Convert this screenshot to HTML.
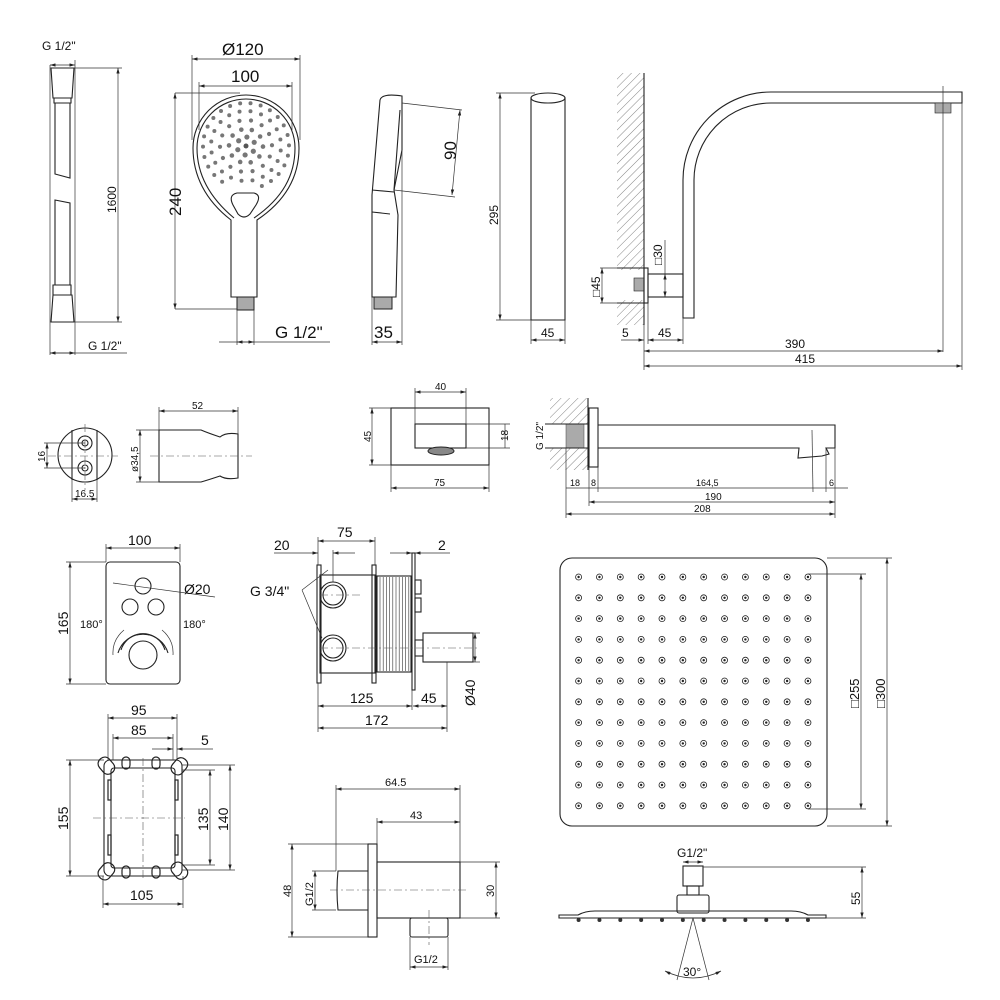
<!DOCTYPE html>
<html><head><meta charset="utf-8"><style>
html,body{margin:0;padding:0;background:#fff;}
svg{display:block;font-family:"Liberation Sans",sans-serif;}
.o{fill:none;stroke:#222;stroke-width:1.1}
.d{fill:none;stroke:#333;stroke-width:0.7}
.c{fill:none;stroke:#555;stroke-width:0.6;stroke-dasharray:8 3 2 3}
.h{fill:url(#hat);stroke:none}
text{fill:#111}
</style></head><body>
<svg id="s" width="1000" height="1000" viewBox="0 0 1000 1000" xmlns="http://www.w3.org/2000/svg">
<defs>
<marker id="a" viewBox="0 0 10 6" refX="10" refY="3" markerWidth="8" markerHeight="5" orient="auto-start-reverse"><path d="M0,0 L10,3 L0,6 z" fill="#222"/></marker>
<pattern id="hat" width="6" height="6" patternUnits="userSpaceOnUse" patternTransform="rotate(45)"><line x1="0" y1="0" x2="0" y2="6" stroke="#666" stroke-width="0.8"/></pattern>
</defs>

<!-- HOSE -->
<text x="42" y="50" font-size="12">G 1/2"</text>
<line class="d" x1="50" y1="65" x2="75" y2="65" marker-start="url(#a)" marker-end="url(#a)"/>
<path class="o" d="M51,68 H74 L72,98 H53 Z M54,98 H71 V103 H54 Z M55,103 V174 L70,178 V103"/>
<path class="o" d="M55,200 L70,203 V285 H55 Z M53,285 H71 V295 H53 Z M53,295 H72 L74,322 H51 Z"/>
<line class="d" x1="50" y1="65" x2="50" y2="355"/><line class="d" x1="75" y1="60" x2="75" y2="355"/>
<line class="d" x1="74" y1="68" x2="122" y2="68"/><line class="d" x1="74" y1="322" x2="122" y2="322"/>
<line class="d" x1="118" y1="68" x2="118" y2="322" marker-start="url(#a)" marker-end="url(#a)"/>
<text x="0" y="0" font-size="12" transform="translate(116,213) rotate(-90)">1600</text>
<line class="d" x1="50" y1="353" x2="127" y2="353"/>
<line class="d" x1="50" y1="353" x2="75" y2="353" marker-start="url(#a)" marker-end="url(#a)"/>
<text x="88" y="350" font-size="12">G 1/2"</text>

<!-- HAND SHOWER -->
<text x="222" y="55" font-size="17">Ø120</text>
<line class="d" x1="192" y1="59" x2="300" y2="59" marker-start="url(#a)" marker-end="url(#a)"/>
<line class="d" x1="192" y1="55" x2="192" y2="140"/><line class="d" x1="300" y1="55" x2="300" y2="140"/>
<text x="231" y="82" font-size="17">100</text>
<line class="d" x1="199" y1="86" x2="292" y2="86" marker-start="url(#a)" marker-end="url(#a)"/>
<line class="d" x1="199" y1="82" x2="199" y2="130"/><line class="d" x1="292" y1="82" x2="292" y2="130"/>
<path class="o" d="M231,220 C205,200 193,175 193,148 A53,53 0 1 1 299,148 C299,175 287,200 257,220 V297 H231 Z"/>
<path class="o" d="M234,218 C210,198 197,175 197,148 A49,49 0 1 1 295,148 C295,175 283,198 254,218"/>
<path class="o" d="M237,193 H254 Q262,195 256,205 L250,214 Q244,220 238,214 L233,205 Q228,195 237,193 Z"/>
<rect x="237" y="297" width="17" height="13" fill="#aaa" stroke="#222"/>
<g id="hs"></g>
<line class="d" x1="175" y1="93" x2="240" y2="93"/><line class="d" x1="175" y1="309" x2="237" y2="309"/>
<line class="d" x1="175" y1="93" x2="175" y2="309" marker-start="url(#a)" marker-end="url(#a)"/>
<text x="0" y="0" font-size="17" transform="translate(181,216) rotate(-90)">240</text>
<line class="d" x1="237" y1="310" x2="237" y2="345"/><line class="d" x1="254" y1="310" x2="254" y2="345"/>
<line class="d" x1="219" y1="342" x2="330" y2="342"/>
<line class="d" x1="237" y1="342" x2="254" y2="342" marker-start="url(#a)" marker-end="url(#a)"/>
<text x="275" y="338" font-size="17">G 1/2"</text>

<!-- side hand shower -->
<path class="o" d="M380,100 Q382,93 402,96 V150 L394,190 L398,215 L396,297 H372 V195 Z"/>
<path class="o" d="M372,190 L394,192 M372,212 L390,214 M400,110 L394,190"/>
<rect x="374" y="297" width="18" height="12" fill="#aaa" stroke="#222"/>
<path class="d" d="M402,103 L462,110 M394,190 L455,197"/>
<line class="d" x1="460" y1="110" x2="452" y2="195" marker-start="url(#a)" marker-end="url(#a)"/>
<text x="0" y="0" font-size="17" transform="translate(456,160) rotate(-90)">90</text>
<line class="d" x1="372" y1="297" x2="372" y2="345"/><line class="d" x1="402" y1="150" x2="402" y2="345"/>
<line class="d" x1="372" y1="342" x2="402" y2="342" marker-start="url(#a)" marker-end="url(#a)"/>
<text x="374" y="338" font-size="17">35</text>

<!-- 295 holder -->
<path class="o" d="M531,98 V320 H565 V98"/>
<ellipse class="o" cx="548" cy="98" rx="17" ry="5"/>
<line class="d" x1="496" y1="93" x2="535" y2="93"/><line class="d" x1="496" y1="320" x2="531" y2="320"/>
<line class="d" x1="500" y1="93" x2="500" y2="320" marker-start="url(#a)" marker-end="url(#a)"/>
<text x="0" y="0" font-size="12" transform="translate(498,225) rotate(-90)">295</text>
<line class="d" x1="531" y1="320" x2="531" y2="344"/><line class="d" x1="565" y1="320" x2="565" y2="344"/>
<line class="d" x1="531" y1="340" x2="565" y2="340" marker-start="url(#a)" marker-end="url(#a)"/>
<text x="541" y="337" font-size="12">45</text>

<!-- shower arm -->
<rect class="h" x="617" y="73" width="27" height="252"/>
<rect x="617" y="270" width="27" height="30" fill="#fff"/>
<line class="o" x1="644" y1="73" x2="644" y2="325"/>
<path class="o" d="M617,268 H644 M617,303 H644"/>
<rect x="634" y="278" width="10" height="13" fill="#aaa" stroke="#222" stroke-width="0.6"/>
<rect class="o" x="644" y="268" width="4" height="35"/>
<rect class="o" x="648" y="274" width="35" height="23"/>
<path class="o" d="M683,318 V180 A88,88 0 0 1 771,92 H962 V103 H771 A77,77 0 0 0 694,180 V318 Z"/>
<rect x="935" y="103" width="16" height="10" fill="#aaa" stroke="#222" stroke-width="0.6"/>
<line class="d" x1="943" y1="86" x2="943" y2="352"/>
<line class="d" x1="962" y1="103" x2="962" y2="370"/>
<line class="d" x1="665" y1="274" x2="665" y2="297" marker-start="url(#a)" marker-end="url(#a)"/>
<line class="d" x1="665" y1="240" x2="665" y2="274"/>
<text x="0" y="0" font-size="12" transform="translate(662,265) rotate(-90)">□30</text>
<line class="d" x1="600" y1="268" x2="617" y2="268"/><line class="d" x1="600" y1="303" x2="617" y2="303"/>
<line class="d" x1="602" y1="268" x2="602" y2="303" marker-start="url(#a)" marker-end="url(#a)"/>
<text x="0" y="0" font-size="12" transform="translate(600,297) rotate(-90)">□45</text>
<line class="d" x1="644" y1="325" x2="644" y2="370"/><line class="d" x1="683" y1="318" x2="683" y2="344"/><line class="d" x1="648" y1="303" x2="648" y2="344"/>
<line class="d" x1="621" y1="340" x2="644" y2="340" marker-end="url(#a)"/>
<line class="d" x1="648" y1="340" x2="683" y2="340" marker-start="url(#a)" marker-end="url(#a)"/>
<text x="622" y="337" font-size="12">5</text><text x="658" y="337" font-size="12">45</text>
<line class="d" x1="644" y1="351" x2="943" y2="351" marker-start="url(#a)" marker-end="url(#a)"/>
<text x="785" y="348" font-size="12">390</text>
<line class="d" x1="644" y1="366" x2="962" y2="366" marker-start="url(#a)" marker-end="url(#a)"/>
<text x="795" y="363" font-size="12">415</text>

<!-- MIDDLE ROW: holder -->
<circle class="o" cx="85" cy="455" r="27"/>
<path class="o" d="M72,430 V480 M97,430 V480"/>
<circle class="o" cx="85" cy="443" r="7"/><circle class="o" cx="85" cy="443" r="3"/>
<circle class="o" cx="85" cy="468" r="7"/><circle class="o" cx="85" cy="468" r="3"/>
<line class="c" x1="48" y1="456" x2="118" y2="456"/><line class="c" x1="85" y1="424" x2="85" y2="490"/>
<line class="d" x1="44" y1="443" x2="85" y2="443"/><line class="d" x1="44" y1="468" x2="85" y2="468"/>
<line class="d" x1="47" y1="443" x2="47" y2="468" marker-start="url(#a)" marker-end="url(#a)"/>
<text x="0" y="0" font-size="10" transform="translate(45,462) rotate(-90)">16</text>
<line class="d" x1="72" y1="480" x2="72" y2="502"/><line class="d" x1="97" y1="480" x2="97" y2="502"/>
<line class="d" x1="72" y1="499" x2="97" y2="499" marker-start="url(#a)" marker-end="url(#a)"/>
<text x="75" y="497" font-size="10">16.5</text>
<path class="o" d="M159,430 H201 Q208,433 220,437 Q226,432 238,434 V478 Q226,480 220,476 Q208,480 201,482 H159 Z"/>
<line class="c" x1="150" y1="456" x2="252" y2="456"/>
<line class="d" x1="159" y1="407" x2="159" y2="430"/><line class="d" x1="238" y1="407" x2="238" y2="434"/>
<line class="d" x1="159" y1="411" x2="238" y2="411" marker-start="url(#a)" marker-end="url(#a)"/>
<text x="192" y="409" font-size="10">52</text>
<line class="d" x1="136" y1="430" x2="159" y2="430"/><line class="d" x1="136" y1="482" x2="159" y2="482"/>
<line class="d" x1="140" y1="430" x2="140" y2="482" marker-start="url(#a)" marker-end="url(#a)"/>
<text x="0" y="0" font-size="10" transform="translate(138,472) rotate(-90)">ø34,5</text>

<!-- wall outlet -->
<rect class="o" x="391" y="408" width="98" height="57"/>
<rect class="o" x="415" y="424" width="51" height="24"/>
<ellipse cx="441" cy="451" rx="13" ry="4" fill="#888" stroke="#222"/>
<line class="d" x1="415" y1="388" x2="415" y2="424"/><line class="d" x1="466" y1="388" x2="466" y2="424"/>
<line class="d" x1="415" y1="392" x2="466" y2="392" marker-start="url(#a)" marker-end="url(#a)"/>
<text x="435" y="390" font-size="10">40</text>
<line class="d" x1="369" y1="408" x2="391" y2="408"/><line class="d" x1="369" y1="465" x2="391" y2="465"/>
<line class="d" x1="372" y1="408" x2="372" y2="465" marker-start="url(#a)" marker-end="url(#a)"/>
<text x="0" y="0" font-size="10" transform="translate(371,442) rotate(-90)">45</text>
<line class="d" x1="391" y1="465" x2="391" y2="492"/><line class="d" x1="489" y1="465" x2="489" y2="492"/>
<line class="d" x1="391" y1="488" x2="489" y2="488" marker-start="url(#a)" marker-end="url(#a)"/>
<text x="434" y="486" font-size="10">75</text>
<line class="d" x1="466" y1="424" x2="510" y2="424"/><line class="d" x1="466" y1="448" x2="510" y2="448"/>
<line class="d" x1="505" y1="424" x2="505" y2="448"/>
<text x="0" y="0" font-size="10" transform="translate(508,441) rotate(-90)">18</text>

<!-- spout -->
<rect class="h" x="550" y="398" width="38" height="72"/>
<rect x="550" y="424" width="38" height="24" fill="#fff"/>
<rect x="566" y="424" width="18" height="24" fill="#aaa" stroke="#444" stroke-width="0.5"/>
<path class="o" d="M545,424 H589 M545,448 H589 M588,398 V470"/>
<rect class="o" x="589" y="408" width="9" height="59"/>
<path class="o" d="M598,425 H835 V448 H826 L829,454 L822,456 L798,458 L799,448 H598"/>
<line class="d" x1="812" y1="430" x2="813" y2="492"/><line class="d" x1="826" y1="448" x2="826" y2="492"/>
<line class="d" x1="835" y1="448" x2="835" y2="518"/>
<line class="d" x1="566" y1="448" x2="566" y2="518"/><line class="d" x1="589" y1="467" x2="589" y2="506"/><line class="d" x1="598" y1="467" x2="598" y2="492"/>
<text x="0" y="0" font-size="10" transform="translate(543,450) rotate(-90)">G 1/2"</text>
<line class="d" x1="566" y1="488" x2="848" y2="488"/>
<text x="570" y="486" font-size="9">18</text><text x="591" y="486" font-size="9">8</text>
<text x="696" y="486" font-size="9">164,5</text><text x="829" y="486" font-size="9">6</text>
<line class="d" x1="589" y1="502" x2="835" y2="502" marker-start="url(#a)" marker-end="url(#a)"/>
<text x="705" y="500" font-size="10">190</text>
<line class="d" x1="566" y1="514" x2="835" y2="514" marker-start="url(#a)" marker-end="url(#a)"/>
<text x="694" y="512" font-size="10">208</text>

<!-- THERMOSTAT PANEL -->
<rect class="o" x="106" y="562" width="74" height="122" rx="4"/>
<line class="d" x1="106" y1="544" x2="106" y2="562"/><line class="d" x1="180" y1="544" x2="180" y2="562"/>
<line class="d" x1="106" y1="548" x2="180" y2="548" marker-start="url(#a)" marker-end="url(#a)"/>
<text x="128" y="545" font-size="14">100</text>
<line class="d" x1="66" y1="562" x2="106" y2="562"/><line class="d" x1="66" y1="684" x2="106" y2="684"/>
<line class="d" x1="70" y1="562" x2="70" y2="684" marker-start="url(#a)" marker-end="url(#a)"/>
<text x="0" y="0" font-size="14" transform="translate(68,635) rotate(-90)">165</text>
<circle class="o" cx="143" cy="586" r="8"/><circle class="o" cx="130" cy="607" r="8"/><circle class="o" cx="156" cy="607" r="8"/>
<line class="d" x1="113" y1="583" x2="215" y2="597"/>
<text x="184" y="594" font-size="14">Ø20</text>
<circle class="o" cx="143" cy="655" r="14"/>
<path class="o" d="M121,650 A23,23 0 0 1 165,650"/>
<path class="o" d="M118,653 A26,26 0 0 1 168,653"/>
<path class="d" d="M113,655 Q112,640 124,630 M173,655 Q174,640 162,630"/>
<text x="80" y="628" font-size="11">180°</text><text x="183" y="628" font-size="11">180°</text>

<!-- MIXER BODY -->
<rect class="o" x="320" y="575" width="55" height="98"/>
<rect class="o" x="317" y="565" width="4" height="118"/><rect class="o" x="372" y="565" width="4" height="118"/>
<g stroke="#333" stroke-width="0.6" fill="none" id="rib"></g>
<rect class="o" x="377" y="576" width="34" height="96"/>
<rect class="o" x="412" y="553" width="3" height="137"/>
<rect class="o" x="415" y="580" width="6" height="14"/><rect class="o" x="415" y="598" width="6" height="14"/>
<rect class="o" x="423" y="633" width="50" height="29"/>
<rect class="o" x="415" y="640" width="8" height="16"/>
<circle class="o" cx="333" cy="595" r="13"/><circle class="o" cx="333" cy="595" r="10"/>
<circle class="o" cx="333" cy="648" r="13"/><circle class="o" cx="333" cy="648" r="10"/>
<line class="c" x1="320" y1="595" x2="360" y2="595"/><line class="c" x1="320" y1="648" x2="480" y2="648"/>
<path class="d" d="M302,590 L328,570 M302,590 L322,638"/>
<text x="250" y="596" font-size="14">G 3/4"</text>
<line class="d" x1="318" y1="537" x2="318" y2="565"/><line class="d" x1="375" y1="537" x2="375" y2="565"/><line class="d" x1="333" y1="550" x2="333" y2="582"/>
<line class="d" x1="318" y1="541" x2="375" y2="541" marker-start="url(#a)" marker-end="url(#a)"/>
<text x="337" y="537" font-size="14">75</text>
<line class="d" x1="274" y1="553" x2="318" y2="553" marker-end="url(#a)"/><line class="d" x1="333" y1="553" x2="355" y2="553" marker-start="url(#a)"/>
<text x="274" y="550" font-size="14">20</text>
<line class="d" x1="390" y1="553" x2="412" y2="553" marker-end="url(#a)"/><line class="d" x1="415" y1="553" x2="450" y2="553" marker-start="url(#a)"/>
<text x="438" y="550" font-size="14">2</text>
<line class="d" x1="318" y1="683" x2="318" y2="732"/><line class="d" x1="412" y1="690" x2="412" y2="710"/><line class="d" x1="447" y1="662" x2="447" y2="732"/>
<line class="d" x1="318" y1="706" x2="412" y2="706" marker-start="url(#a)" marker-end="url(#a)"/>
<line class="d" x1="413" y1="706" x2="447" y2="706" marker-start="url(#a)" marker-end="url(#a)"/>
<text x="350" y="703" font-size="14">125</text><text x="421" y="703" font-size="14">45</text>
<line class="d" x1="473" y1="633" x2="480" y2="633"/><line class="d" x1="473" y1="662" x2="480" y2="662"/>
<line class="d" x1="475" y1="633" x2="475" y2="662" marker-start="url(#a)" marker-end="url(#a)"/>
<text x="0" y="0" font-size="14" transform="translate(475,706) rotate(-90)">Ø40</text>
<line class="d" x1="318" y1="728" x2="447" y2="728" marker-start="url(#a)" marker-end="url(#a)"/>
<text x="365" y="725" font-size="14">172</text>

<!-- INSTALL BOX -->
<rect class="o" x="104" y="760" width="78" height="116" rx="6"/>
<rect class="o" x="111" y="768" width="64" height="100" rx="3"/>
<g fill="none" stroke="#222" stroke-width="1.2">
<rect x="100" y="757" width="13" height="18" rx="6" transform="rotate(-40 106 766)"/>
<rect x="173" y="757" width="13" height="18" rx="6" transform="rotate(40 179 766)"/>
<rect x="100" y="862" width="13" height="18" rx="6" transform="rotate(40 106 871)"/>
<rect x="173" y="862" width="13" height="18" rx="6" transform="rotate(-40 179 871)"/>
<rect x="122" y="757" width="8" height="12" rx="4"/><rect x="152" y="757" width="8" height="12" rx="4"/>
<rect x="122" y="866" width="8" height="12" rx="4"/><rect x="152" y="866" width="8" height="12" rx="4"/>
<rect x="108" y="780" width="3" height="20"/><rect x="108" y="835" width="3" height="20"/>
<rect x="175" y="780" width="3" height="20"/><rect x="175" y="835" width="3" height="20"/>
</g>
<line class="c" x1="93" y1="818" x2="185" y2="818"/><line class="c" x1="143" y1="758" x2="143" y2="880"/>
<line class="d" x1="108" y1="714" x2="108" y2="760"/><line class="d" x1="177" y1="714" x2="177" y2="760"/>
<line class="d" x1="108" y1="718" x2="177" y2="718" marker-start="url(#a)" marker-end="url(#a)"/>
<text x="131" y="715" font-size="14">95</text>
<line class="d" x1="113" y1="738" x2="173" y2="738" marker-start="url(#a)" marker-end="url(#a)"/>
<line class="d" x1="113" y1="734" x2="113" y2="760"/><line class="d" x1="173" y1="734" x2="173" y2="760"/>
<text x="131" y="735" font-size="14">85</text>
<line class="d" x1="152" y1="749" x2="173" y2="749" marker-end="url(#a)"/><line class="d" x1="177" y1="749" x2="213" y2="749" marker-start="url(#a)"/>
<text x="201" y="745" font-size="14">5</text>
<line class="d" x1="66" y1="760" x2="104" y2="760"/><line class="d" x1="66" y1="876" x2="104" y2="876"/>
<line class="d" x1="70" y1="760" x2="70" y2="876" marker-start="url(#a)" marker-end="url(#a)"/>
<text x="0" y="0" font-size="14" transform="translate(68,830) rotate(-90)">155</text>
<line class="d" x1="182" y1="770" x2="215" y2="770"/><line class="d" x1="182" y1="865" x2="215" y2="865"/>
<line class="d" x1="210" y1="770" x2="210" y2="865" marker-start="url(#a)" marker-end="url(#a)"/>
<text x="0" y="0" font-size="14" transform="translate(208,831) rotate(-90)">135</text>
<line class="d" x1="182" y1="765" x2="235" y2="765"/><line class="d" x1="182" y1="870" x2="235" y2="870"/>
<line class="d" x1="230" y1="765" x2="230" y2="870" marker-start="url(#a)" marker-end="url(#a)"/>
<text x="0" y="0" font-size="14" transform="translate(228,831) rotate(-90)">140</text>
<line class="d" x1="103" y1="876" x2="103" y2="908"/><line class="d" x1="183" y1="876" x2="183" y2="908"/>
<line class="d" x1="103" y1="904" x2="183" y2="904" marker-start="url(#a)" marker-end="url(#a)"/>
<text x="130" y="900" font-size="14">105</text>

<!-- WALL CONNECTION -->
<rect class="o" x="368" y="844" width="9" height="93"/>
<rect class="o" x="377" y="862" width="83" height="56"/>
<path class="o" d="M368,871 H338 Q336,890 338,910 H368"/>
<rect class="o" x="410" y="918" width="38" height="19" rx="2"/>
<line class="c" x1="330" y1="890" x2="468" y2="890"/><line class="c" x1="429" y1="910" x2="429" y2="945"/>
<line class="d" x1="336" y1="785" x2="336" y2="871"/><line class="d" x1="460" y1="785" x2="460" y2="862"/>
<line class="d" x1="336" y1="789" x2="460" y2="789" marker-start="url(#a)" marker-end="url(#a)"/>
<text x="385" y="786" font-size="11">64.5</text>
<line class="d" x1="377" y1="818" x2="377" y2="844"/>
<line class="d" x1="377" y1="822" x2="460" y2="822" marker-start="url(#a)" marker-end="url(#a)"/>
<text x="410" y="819" font-size="11">43</text>
<line class="d" x1="288" y1="844" x2="368" y2="844"/><line class="d" x1="288" y1="937" x2="368" y2="937"/>
<line class="d" x1="292" y1="844" x2="292" y2="937" marker-start="url(#a)" marker-end="url(#a)"/>
<text x="0" y="0" font-size="11" transform="translate(291,897) rotate(-90)">48</text>
<line class="d" x1="312" y1="871" x2="336" y2="871"/><line class="d" x1="312" y1="910" x2="336" y2="910"/>
<line class="d" x1="315" y1="871" x2="315" y2="910" marker-start="url(#a)" marker-end="url(#a)"/>
<text x="0" y="0" font-size="11" transform="translate(313,906) rotate(-90)">G1/2</text>
<line class="d" x1="460" y1="862" x2="500" y2="862"/><line class="d" x1="460" y1="918" x2="500" y2="918"/>
<line class="d" x1="496" y1="862" x2="496" y2="918" marker-start="url(#a)" marker-end="url(#a)"/>
<text x="0" y="0" font-size="11" transform="translate(494,897) rotate(-90)">30</text>
<line class="d" x1="410" y1="937" x2="410" y2="970"/><line class="d" x1="448" y1="937" x2="448" y2="970"/>
<line class="d" x1="410" y1="967" x2="448" y2="967" marker-start="url(#a)" marker-end="url(#a)"/>
<text x="414" y="963" font-size="11">G1/2</text>

<!-- RAIN HEAD -->
<rect class="o" x="560" y="558" width="267" height="268" rx="12"/>
<g id="rd"></g>
<line class="d" x1="808" y1="574" x2="866" y2="574"/><line class="d" x1="808" y1="809" x2="866" y2="809"/>
<line class="d" x1="861" y1="574" x2="861" y2="809" marker-start="url(#a)" marker-end="url(#a)"/>
<text x="0" y="0" font-size="13" transform="translate(859,708) rotate(-90)">□255</text>
<line class="d" x1="827" y1="558" x2="892" y2="558"/><line class="d" x1="827" y1="826" x2="892" y2="826"/>
<line class="d" x1="887" y1="558" x2="887" y2="826" marker-start="url(#a)" marker-end="url(#a)"/>
<text x="0" y="0" font-size="13" transform="translate(885,708) rotate(-90)">□300</text>

<text x="677" y="857" font-size="12">G1/2"</text>
<line class="d" x1="683" y1="862" x2="703" y2="862" marker-start="url(#a)" marker-end="url(#a)"/>
<rect class="o" x="683" y="866" width="20" height="20"/>
<rect class="o" x="687" y="886" width="12" height="9"/>
<rect class="o" x="677" y="895" width="32" height="18" rx="2"/>
<path class="o" d="M559,915 H578 Q585,911 595,911 H791 Q801,911 808,915 H826 V918 H559 Z"/>
<g id="bd"></g>
<line class="d" x1="703" y1="867" x2="866" y2="867"/><line class="d" x1="826" y1="918" x2="866" y2="918"/>
<line class="d" x1="862" y1="867" x2="862" y2="918" marker-start="url(#a)" marker-end="url(#a)"/>
<text x="0" y="0" font-size="12" transform="translate(860,905) rotate(-90)">55</text>
<path class="d" d="M693,918 L677,980 M693,918 L709,980"/>
<path class="d" d="M665,971 Q693,985 721,971" marker-start="url(#a)" marker-end="url(#a)"/>
<text x="683" y="976" font-size="12">30°</text>
</svg>
<script>
var NS="http://www.w3.org/2000/svg";
function C(g,x,y,r,f,s){var c=document.createElementNS(NS,"circle");c.setAttribute("cx",x);c.setAttribute("cy",y);c.setAttribute("r",r);c.setAttribute("fill",f);if(s){c.setAttribute("stroke",s);c.setAttribute("stroke-width","0.8");}g.appendChild(c);}
var rd=document.getElementById("rd");
for(var i=0;i<12;i++)for(var j=0;j<12;j++){var x=578.6+i*20.85,y=577+j*20.8;C(rd,x,y,3,"#fff","#222");C(rd,x,y,1.2,"#222");}
var bd=document.getElementById("bd");
for(var i=0;i<12;i++){C(bd,578.6+i*20.85,920,2,"#333");}
var hs=document.getElementById("hs");
C(hs,246,146,2.5,"#555");
var rings=[[9,6,2.6],[17,10,2.3],[26,14,2.1],[35,20,2.0],[43,26,2.0]];
rings.forEach(function(r){for(var k=0;k<r[1];k++){var a=k*2*Math.PI/r[1]+r[0];var y=146+r[0]*Math.sin(a);if(y>186)continue;C(hs,246+r[0]*Math.cos(a),y,r[2],"#777");}});
var rib=document.getElementById("rib");
for(var x=380;x<411;x+=3.2){var l=document.createElementNS(NS,"line");l.setAttribute("x1",x);l.setAttribute("x2",x);l.setAttribute("y1",577);l.setAttribute("y2",671);rib.appendChild(l);}
</script>
</body></html>
